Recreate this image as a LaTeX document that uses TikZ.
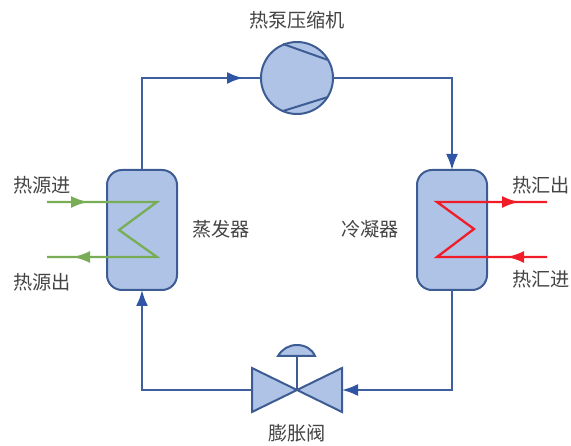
\documentclass[tikz,border=0pt]{standalone}
\usepackage{fontspec}
\setmainfont{Noto Sans CJK SC}
\usetikzlibrary{arrows.meta}
\definecolor{pipe}{HTML}{3F5F9F}
\definecolor{fillb}{HTML}{AFC3E6}
\definecolor{edge}{HTML}{3E5C94}
\definecolor{tip}{HTML}{2F55A4}
\definecolor{grn}{HTML}{78AD55}
\definecolor{rd}{HTML}{F01C28}
\definecolor{txt}{HTML}{444444}
\tikzset{
  x=1pt,y=-1pt,
  pipeline/.style={draw=pipe,line width=2pt},
  vessel/.style={draw=edge,fill=fillb,line width=2pt,rounded corners=15pt,minimum width=70pt,minimum height=120pt,inner sep=0pt,outer sep=0pt},
  comp/.style={circle,draw=edge,fill=fillb,line width=2pt,minimum size=72pt,inner sep=0pt,outer sep=0pt},
  solid part/.style={draw=edge,fill=fillb,line width=2pt,line join=miter},
  label/.style={text=txt,font=\fontsize{19.2pt}{22pt}\selectfont,inner sep=0pt,outer sep=0pt},
  coil/.style={line width=2.3pt,line join=miter},
  arrowpipe/.style={-{Latex[length=16pt,width=12pt,color=tip]},pipeline},
  coilgreen/.style={coil,draw=grn},
  coilred/.style={coil,draw=rd},
  greentip/.style={-{Latex[length=17pt,width=12pt,color=grn]},coilgreen},
  redtip/.style={-{Latex[length=17pt,width=12pt,color=rd]},coilred},
}
\begin{document}
\begin{tikzpicture}
\useasboundingbox (0,0) rectangle (571,446);
\coordinate (ctl) at (142,78);
\coordinate (ctr) at (452,78);
\coordinate (cbr) at (452,390);
\coordinate (cbl) at (142,390);
\coordinate (flow1) at (243,78);

\node[vessel] (evap) at (142,230) {};
\node[vessel] (cond) at (452,230) {};
\node[comp] (compressor) at (297,78) {};

\coordinate (vc) at (297,390);
\coordinate (vl) at (252,390);
\coordinate (vr) at (342,390);
\coordinate (stemtop) at (297,357);

\draw[pipeline] (evap.north) -- (ctl) -- (compressor.west);
\draw[arrowpipe] (ctl) -- (flow1);
\draw[arrowpipe] (compressor.east) -- (ctr) -- (cond.north);
\draw[arrowpipe] (cond.south) -- (cbr) -- (vr);
\draw[arrowpipe] (vl) -- (cbl) -- (evap.south);

\coordinate (c1a) at (283,44);
\coordinate (c1b) at (328,60);
\coordinate (c2a) at (283,111);
\coordinate (c2b) at (328,97);
\draw[edge,line width=2pt] (c1a) -- (c1b) (c2a) -- (c2b);

\draw[solid part] (vc) -- (252,368) -- (252,412) -- cycle;
\draw[solid part] (vc) -- (342,368) -- (342,412) -- cycle;
\draw[edge,line width=1.8pt] (vc) -- (stemtop);
\draw[solid part] (278,356) .. controls (282,349) and (289,345) .. (297,345) .. controls (305,345) and (312,349) .. (315,356) -- cycle;

\coordinate (g1) at (47,202);
\coordinate (g2) at (157,202);
\coordinate (g3) at (119,230);
\coordinate (g4) at (157,257);
\coordinate (g5) at (47,257);
\coordinate (g1m) at (88,202);
\coordinate (g5m) at (73,257);
\draw[coilgreen] (g1) -- (g2) -- (g3) -- (g4) -- (g5);
\draw[greentip] (g1) -- (g1m);
\draw[greentip] (g4) -- (g5m);

\coordinate (r1) at (547,202);
\coordinate (r2) at (437,202);
\coordinate (r3) at (474,229);
\coordinate (r4) at (437,257);
\coordinate (r5) at (547,257);
\coordinate (r1m) at (519,202);
\coordinate (r5m) at (507,257);
\draw[coilred] (r1) -- (r2) -- (r3) -- (r4) -- (r5);
\draw[redtip] (r2) -- (r1m);
\draw[redtip] (r5) -- (r5m);

\node[label] (t1) at (297,20) {热泵压缩机};
\node[label] (t2) at (42,185) {热源进};
\node[label] (t3) at (42,282) {热源出};
\node[label] (t4) at (221,229) {蒸发器};
\node[label] (t5) at (370,229) {冷凝器};
\node[label] (t6) at (541,185) {热汇出};
\node[label] (t7) at (541,279) {热汇进};
\node[label] (t8) at (297,433) {膨胀阀};
\end{tikzpicture}
\end{document}
